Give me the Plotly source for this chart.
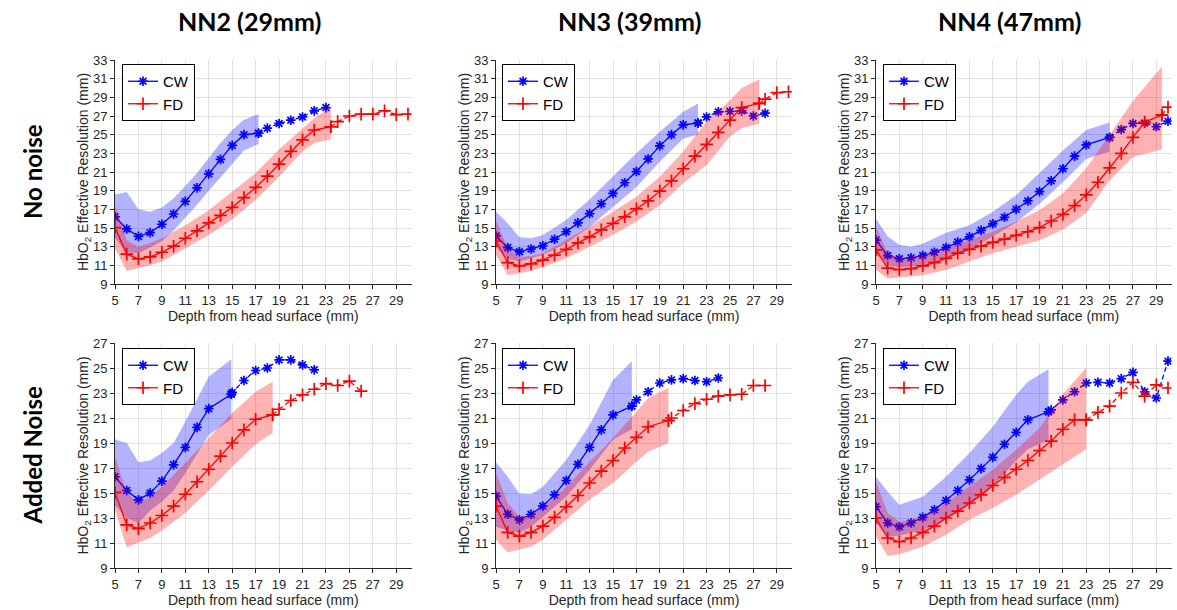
import plotly.graph_objects as go

# ---------------- data ----------------
# Panel A: NN2 (29mm), No noise
A_cw_x = [5, 6, 7, 8, 9, 10, 11, 12, 13, 14, 15, 16, 17.25]
A_cw_y = [16.2, 14.9, 14.1, 14.5, 15.4, 16.5, 17.85, 19.3, 20.8, 22.35, 23.85, 25.0, 25.15]
A_cw_dx = [18, 19, 20, 21, 22, 23]
A_cw_dy = [25.7, 26.2, 26.55, 26.9, 27.55, 27.9]
A_cw_bx = [5, 6, 7, 8, 9, 10, 11, 12, 13, 14, 15, 16, 17.25]
A_cw_hi = [18.6, 18.85, 17.0, 16.75, 17.2, 18.2, 19.5, 20.9, 22.5, 24.1, 25.5, 26.6, 27.2]
A_cw_lo = [13.9, 12.4, 12.3, 12.9, 13.6, 14.7, 16.1, 17.5, 19.0, 20.5, 21.9, 23.3, 24.0]
A_fd_x = [5, 6, 7, 8, 9, 10, 11, 12, 13, 14, 15, 16, 17, 18, 19, 20, 21, 22, 23.42]
A_fd_y = [15.05, 12.2, 11.7, 11.9, 12.4, 13.05, 13.9, 14.7, 15.55, 16.35, 17.2, 18.25, 19.35,
          20.55, 21.85, 23.2, 24.45, 25.5, 25.85]
A_fd_dx = [24, 25, 26, 27, 28, 29, 30]
A_fd_dy = [26.4, 27.0, 27.2, 27.2, 27.55, 27.15, 27.2]
A_fd_bx = [5, 6, 7, 8, 9, 11, 13, 15, 17, 19, 21, 22, 23.42]
A_fd_hi = [17.45, 13.7, 13.0, 13.4, 13.9, 15.3, 16.9, 18.9, 20.9, 23.4, 25.7, 26.75, 28.0]
A_fd_lo = [12.8, 10.4, 10.7, 11.0, 11.4, 12.8, 14.25, 15.9, 18.0, 20.5, 23.2, 24.1, 24.5]

# Panel B: NN3 (39mm), No noise
B_cw_x = [5, 6, 7, 8, 9, 10, 11, 12, 13, 14, 15, 16, 17, 18, 19, 20, 21, 22.27]
B_cw_y = [14.15, 12.9, 12.45, 12.75, 13.1, 13.8, 14.6, 15.55, 16.55, 17.6, 18.7, 19.85, 21.05,
          22.4, 23.8, 25.0, 26.05, 26.25]
B_cw_dx = [23, 24, 25, 26, 27, 28]
B_cw_dy = [26.9, 27.45, 27.5, 27.55, 27.0, 27.3]
B_cw_bx = [5, 6, 7, 8, 9, 11, 13, 15, 17, 19, 21, 22.27]
B_cw_hi = [16.75, 15.5, 14.0, 13.9, 14.25, 15.85, 18.05, 20.5, 23.0, 25.3, 27.45, 28.35]
B_cw_lo = [12.9, 11.7, 11.4, 11.75, 12.1, 13.35, 15.1, 17.3, 19.4, 22.1, 24.6, 25.0]
B_fd_x = [5, 6, 7, 8, 9, 10, 11, 12, 13, 14, 15, 16, 17, 18, 19, 20, 21, 22, 23, 24, 25, 26, 27.5]
B_fd_y = [13.6, 11.3, 10.95, 11.15, 11.55, 12.1, 12.7, 13.4, 14.05, 14.8, 15.5, 16.2, 17.05,
          17.9, 18.95, 20.05, 21.35, 22.7, 23.95, 25.25, 26.55, 27.9, 28.35]
B_fd_dx = [28, 29, 30]
B_fd_dy = [28.8, 29.5, 29.6]
B_fd_bx = [5, 6, 7, 8, 9, 11, 13, 15, 17, 19, 21, 23, 25, 26, 27.5]
B_fd_hi = [15.85, 12.8, 11.9, 12.0, 12.3, 13.7, 15.15, 16.75, 18.35, 20.5, 23.2, 26.4, 28.7, 30.0, 30.9]
B_fd_lo = [12.1, 9.95, 10.15, 10.4, 10.8, 11.75, 13.0, 14.25, 15.7, 17.45, 19.8, 21.75, 24.8, 25.7, 26.2]

# Panel C: NN4 (47mm), No noise
C_cw_x = [5, 6, 7, 8, 9, 10, 11, 12, 13, 14, 15, 16, 17, 18, 19, 20, 21, 22, 23, 25]
C_cw_y = [13.7, 12.05, 11.7, 11.8, 12.05, 12.4, 12.9, 13.5, 14.05, 14.75, 15.45, 16.15, 17.0,
          17.9, 18.9, 20.05, 21.35, 22.7, 23.9, 24.7]
C_cw_dx = [26, 27, 28, 29, 30]
C_cw_dy = [25.55, 26.2, 26.25, 25.85, 26.45]
C_cw_bx = [5, 6, 7, 8, 9, 11, 13, 15, 17, 19, 21, 23, 25]
C_cw_hi = [16.0, 14.1, 13.2, 13.0, 13.3, 14.5, 15.3, 16.75, 18.5, 20.85, 23.3, 25.5, 26.3]
C_cw_lo = [12.3, 11.0, 10.8, 10.9, 11.0, 11.7, 12.7, 14.1, 15.6, 17.6, 19.9, 22.4, 23.2]
C_fd_x = [5, 6, 7, 8, 9, 10, 11, 12, 13, 14, 15, 16, 17, 18, 19, 20, 21, 22, 23, 24, 25, 26, 27,
          28, 29.48]
C_fd_y = [12.65, 10.7, 10.55, 10.65, 10.95, 11.3, 11.75, 12.3, 12.7, 13.05, 13.45, 13.8, 14.2,
          14.6, 15.05, 15.75, 16.45, 17.4, 18.55, 19.9, 21.45, 23.0, 24.7, 26.35, 27.1]
C_fd_dx = [30]
C_fd_dy = [27.95]
C_fd_bx = [5, 6, 7, 9, 11, 13, 15, 17, 19, 21, 23, 25, 27, 29.48]
C_fd_hi = [15.1, 12.3, 11.75, 12.1, 12.8, 13.7, 14.6, 15.7, 16.9, 18.7, 21.4, 25.0, 28.6, 32.3]
C_fd_lo = [10.5, 9.6, 9.7, 9.95, 10.5, 11.4, 12.3, 13.0, 13.7, 14.8, 16.6, 20.1, 22.6, 23.4]

# Panel D: NN2 (29mm), Added Noise
D_cw_x = [5, 6, 7, 8, 9, 10, 11, 12, 13, 14.92]
D_cw_y = [16.3, 15.2, 14.45, 15.0, 15.95, 17.25, 18.65, 20.25, 21.75, 22.9]
D_cw_dx = [15, 16, 17, 18, 19, 20, 21, 22]
D_cw_dy = [23.05, 24.0, 24.8, 25.0, 25.65, 25.65, 25.25, 24.85]
D_cw_bx = [5, 6, 7, 8, 9, 10, 11, 12, 13, 14.92]
D_cw_hi = [19.3, 19.0, 17.45, 17.6, 18.2, 19.0, 20.7, 22.5, 24.3, 25.7]
D_cw_lo = [14.0, 13.0, 12.6, 13.6, 14.3, 15.2, 16.6, 18.1, 19.65, 20.9]
D_fd_x = [5, 6, 7, 8, 9, 10, 11, 12, 13, 14, 15, 16, 17, 18.45]
D_fd_y = [15.05, 12.45, 12.15, 12.6, 13.2, 13.95, 14.9, 15.9, 16.9, 17.95, 19.0, 20.05, 20.9, 21.25]
D_fd_dx = [19, 20, 21, 22, 23, 24, 25, 26]
D_fd_dy = [21.7, 22.4, 22.85, 23.3, 23.75, 23.6, 23.95, 23.15]
D_fd_bx = [5, 6, 7, 8, 9, 11, 13, 15, 17, 18.45]
D_fd_hi = [17.9, 15.0, 14.2, 14.7, 15.5, 17.4, 19.4, 21.4, 23.1, 23.9]
D_fd_lo = [13.6, 10.65, 11.0, 11.4, 12.0, 13.4, 15.2, 17.1, 18.9, 19.8]

# Panel E: NN3 (39mm), Added Noise
E_cw_x = [5, 6, 7, 8, 9, 10, 11, 12, 13, 14, 15, 16.61]
E_cw_y = [14.75, 13.3, 12.85, 13.3, 13.95, 14.85, 16.0, 17.3, 18.65, 20.05, 21.25, 21.95]
E_cw_dx = [17, 18, 19, 20, 21, 22, 23, 24]
E_cw_dy = [22.45, 23.1, 23.8, 24.05, 24.15, 24.0, 23.9, 24.2]
E_cw_bx = [5, 6, 7, 8, 9, 11, 13, 15, 16.61]
E_cw_hi = [17.45, 16.3, 14.95, 14.9, 15.5, 17.65, 20.45, 24.05, 25.55]
E_cw_lo = [12.3, 12.0, 11.8, 12.3, 13.1, 14.7, 16.85, 19.25, 20.1]
E_fd_x = [5, 6, 7, 8, 9, 10, 11, 12, 13, 14, 15, 16, 17, 18, 19.74]
E_fd_y = [13.95, 11.85, 11.55, 11.85, 12.35, 13.05, 13.9, 14.8, 15.8, 16.75, 17.6, 18.6, 19.45,
          20.3, 20.8]
E_fd_dx = [20, 21, 22, 23, 24, 25, 26, 27, 28]
E_fd_dy = [21.0, 21.6, 22.15, 22.5, 22.75, 22.85, 22.9, 23.6, 23.6]
E_fd_bx = [5, 6, 7, 8, 9, 11, 13, 15, 17, 18, 19.74]
E_fd_hi = [16.6, 14.2, 13.1, 13.25, 13.8, 15.5, 17.5, 19.4, 21.5, 22.6, 23.4]
E_fd_lo = [11.25, 10.25, 10.45, 10.7, 11.25, 12.85, 14.45, 15.8, 17.5, 18.3, 19.0]

# Panel F: NN4 (47mm), Added Noise
F_cw_x = [5, 6, 7, 8, 9, 10, 11, 12, 13, 14, 15, 16, 17, 18, 19.77]
F_cw_y = [13.9, 12.6, 12.3, 12.6, 13.05, 13.65, 14.4, 15.2, 16.05, 16.95, 17.85, 18.9, 19.85,
          20.85, 21.5]
F_cw_dx = [20, 21, 22, 23, 24, 25, 26, 27, 28, 29, 30]
F_cw_dy = [21.65, 22.45, 23.1, 23.8, 23.85, 23.8, 24.15, 24.65, 23.1, 22.6, 25.55]
F_cw_bx = [5, 6, 7, 9, 11, 13, 15, 17, 18, 19.77]
F_cw_hi = [16.3, 15.1, 14.05, 14.7, 16.3, 18.2, 20.3, 22.85, 23.9, 24.9]
F_cw_lo = [12.6, 11.5, 11.6, 12.0, 12.9, 14.0, 15.5, 17.6, 18.5, 19.25]
F_fd_x = [5, 6, 7, 8, 9, 10, 11, 12, 13, 14, 15, 16, 17, 18, 19, 20, 21, 22, 23]
F_fd_y = [13.0, 11.4, 11.1, 11.4, 11.85, 12.35, 13.0, 13.55, 14.2, 14.85, 15.6, 16.25, 16.9,
          17.6, 18.4, 19.15, 20.1, 20.85, 20.85]
F_fd_dx = [24, 25, 26, 27, 28, 29, 30]
F_fd_dy = [21.45, 21.95, 23.0, 23.85, 22.75, 23.65, 23.4]
F_fd_bx = [5, 6, 7, 9, 11, 13, 15, 17, 19, 21, 22, 23]
F_fd_hi = [15.9, 13.4, 12.7, 13.1, 14.2, 15.5, 16.85, 18.45, 20.2, 22.9, 24.0, 25.05]
F_fd_lo = [11.5, 9.95, 10.1, 10.7, 11.65, 12.85, 13.8, 14.85, 16.05, 17.3, 17.9, 18.5]

col_titles = ["NN2 (29mm)", "NN3 (39mm)", "NN4 (47mm)"]
row_titles = ["No noise", "Added Noise"]
series_names = ["CW", "FD"]
x_title = "Depth from head surface (mm)"
y_title = "HbO<sub>2</sub> Effective Resolution (mm)"
y_ranges = [[9, 33], [9, 27]]

panels = [
    [(A_cw_x, A_cw_y, A_cw_dx, A_cw_dy, A_cw_bx, A_cw_hi, A_cw_lo),
     (A_fd_x, A_fd_y, A_fd_dx, A_fd_dy, A_fd_bx, A_fd_hi, A_fd_lo)],
    [(B_cw_x, B_cw_y, B_cw_dx, B_cw_dy, B_cw_bx, B_cw_hi, B_cw_lo),
     (B_fd_x, B_fd_y, B_fd_dx, B_fd_dy, B_fd_bx, B_fd_hi, B_fd_lo)],
    [(C_cw_x, C_cw_y, C_cw_dx, C_cw_dy, C_cw_bx, C_cw_hi, C_cw_lo),
     (C_fd_x, C_fd_y, C_fd_dx, C_fd_dy, C_fd_bx, C_fd_hi, C_fd_lo)],
    [(D_cw_x, D_cw_y, D_cw_dx, D_cw_dy, D_cw_bx, D_cw_hi, D_cw_lo),
     (D_fd_x, D_fd_y, D_fd_dx, D_fd_dy, D_fd_bx, D_fd_hi, D_fd_lo)],
    [(E_cw_x, E_cw_y, E_cw_dx, E_cw_dy, E_cw_bx, E_cw_hi, E_cw_lo),
     (E_fd_x, E_fd_y, E_fd_dx, E_fd_dy, E_fd_bx, E_fd_hi, E_fd_lo)],
    [(F_cw_x, F_cw_y, F_cw_dx, F_cw_dy, F_cw_bx, F_cw_hi, F_cw_lo),
     (F_fd_x, F_fd_y, F_fd_dx, F_fd_dy, F_fd_bx, F_fd_hi, F_fd_lo)],
]

# ---------------- styling ----------------
W, H = 1177, 610
line_colors = ["#0000ff", "#ff0000"]
band_colors = ["rgba(0,0,255,0.30)", "rgba(255,0,0,0.30)"]
symbols = ["asterisk-open", "cross-thin-open"]
sizes = [8, 9]
FONT = "Liberation Sans, Arial, sans-serif"
TXT = "#262626"

X_DOM = [(115 / W, 411.5 / W), (496 / W, 792 / W), (876 / W, 1171.5 / W)]
Y_DOM = [(1 - 284 / H, 1 - 60 / H), (1 - 568 / H, 1 - 343 / H)]
LEG_X = [122 / W, 502 / W, 883 / W]
LEG_Y = [1 - 64 / H, 1 - 348 / H]

fig = go.Figure()
layout = dict(
    width=W, height=H, margin=dict(l=0, r=0, t=0, b=0),
    plot_bgcolor="white", paper_bgcolor="white",
    font=dict(family=FONT, color=TXT, size=13),
    annotations=[], hovermode=False,
)

for p, series in enumerate(panels):
    r, c = divmod(p, 3)
    sfx = "" if p == 0 else str(p + 1)
    xa, ya = "x" + sfx, "y" + sfx
    leg = "legend" + sfx
    for s, (sx, sy, dx, dy, bx, hi, lo) in enumerate(series):
        col = line_colors[s]
        # shaded band
        fig.add_trace(go.Scatter(
            x=list(bx) + list(bx)[::-1], y=list(hi) + list(lo)[::-1],
            fill="toself", fillcolor=band_colors[s], line=dict(width=0),
            mode="lines", showlegend=False, hoverinfo="skip",
            xaxis=xa, yaxis=ya))
        marker = dict(symbol=symbols[s], size=sizes[s], color=col,
                      line=dict(color=col, width=1.7))
        # solid part
        fig.add_trace(go.Scatter(
            x=sx, y=sy, mode="lines+markers", name=series_names[s],
            line=dict(color=col, width=1.3), marker=marker,
            legend=leg, xaxis=xa, yaxis=ya))
        # dashed continuation
        fig.add_trace(go.Scatter(
            x=[sx[-1]] + list(dx), y=[sy[-1]] + list(dy), mode="lines+markers",
            line=dict(color=col, width=1.3, dash="5px,3px"), marker=marker,
            showlegend=False, xaxis=xa, yaxis=ya))

    layout["xaxis" + sfx] = dict(
        domain=X_DOM[c], anchor=ya, range=[5, 30.3], tick0=5, dtick=2,
        showgrid=True, gridcolor="#e2e2e2", gridwidth=1, zeroline=False,
        showline=True, linecolor=TXT, linewidth=1, ticks="outside", ticklen=4,
        tickcolor=TXT, tickfont=dict(size=13, family=FONT, color=TXT),
        title=dict(text=x_title, font=dict(size=14, family=FONT, color=TXT), standoff=2),
        automargin=False, fixedrange=True)
    layout["yaxis" + sfx] = dict(
        domain=Y_DOM[r], anchor=xa, range=y_ranges[r], tick0=9, dtick=2,
        showgrid=True, gridcolor="#e2e2e2", gridwidth=1, zeroline=False,
        showline=True, linecolor=TXT, linewidth=1, ticks="outside", ticklen=4,
        tickcolor=TXT, tickfont=dict(size=13, family=FONT, color=TXT),
        title=dict(text=y_title, font=dict(size=14, family=FONT, color=TXT), standoff=0),
        automargin=False, fixedrange=True)
    layout[leg] = dict(
        x=LEG_X[c], y=LEG_Y[r], xanchor="left", yanchor="top",
        bgcolor="white", bordercolor="black", borderwidth=1,
        font=dict(size=15, family=FONT, color="black"),
        tracegroupgap=0, itemwidth=30)

for c, t in enumerate(col_titles):
    layout["annotations"].append(dict(
        text="<b>%s</b>" % t, xref="paper", yref="paper",
        x=(X_DOM[c][0] + X_DOM[c][1]) / 2 - 0.012, y=1 - 21 / H,
        xanchor="center", yanchor="middle", showarrow=False,
        font=dict(size=25, family="Lato, sans-serif", color="black")))
for r, t in enumerate(row_titles):
    layout["annotations"].append(dict(
        text="<b>%s</b>" % t, xref="paper", yref="paper",
        x=32 / W, y=(Y_DOM[r][0] + Y_DOM[r][1]) / 2,
        xanchor="center", yanchor="middle", showarrow=False, textangle=-90,
        font=dict(size=24, family="Lato, sans-serif", color="black")))

fig.update_layout(**layout)
fig.write_html("out.html")
